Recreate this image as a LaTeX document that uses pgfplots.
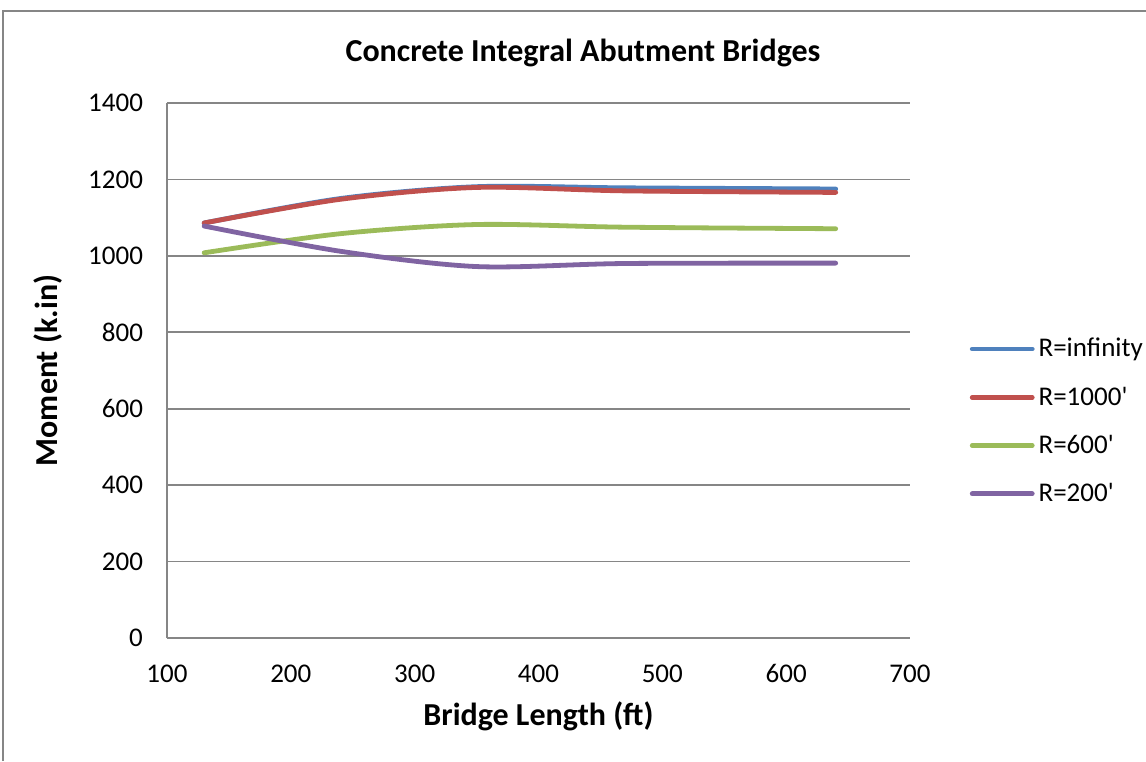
\documentclass[border=0pt]{standalone}
\usepackage{fontspec}
\setmainfont{Carlito}
\usepackage{pgfplots}
\pgfplotsset{compat=1.18}

\definecolor{sBlue}{HTML}{4F81BD}
\definecolor{sRed}{HTML}{C0504D}
\definecolor{sGreen}{HTML}{9BBB59}
\definecolor{sPurple}{HTML}{8064A2}
\definecolor{gridgray}{HTML}{868686}

\begin{document}
\begin{tikzpicture}
\useasboundingbox (0,0) rectangle (573pt,380.5pt);
\draw[gridgray, line width=0.8pt] (1.5pt,0) -- (1.5pt,375pt) -- (573pt,375pt);
\node[font=\bfseries\fontsize{16}{18}\selectfont] at (291.5pt,354pt) {Concrete Integral Abutment Bridges};
\begin{axis}[
  at={(83.5pt,61.5pt)}, anchor=south west,
  scale only axis, width=371.5pt, height=267.5pt,
  xmin=100, xmax=700, ymin=0, ymax=1400,
  xtick={100,200,...,700}, ytick={0,200,...,1400},
  axis x line*=bottom, axis y line*=left,
  axis line style={gridgray, line width=0.8pt, -},
  major tick length=0pt,
  ymajorgrids, grid style={gridgray, line width=0.8pt},
  tick label style={font=\fontsize{13.5}{15}\selectfont},
  /pgf/number format/assume math mode=true,
  /pgf/number format/1000 sep={},
  xticklabel style={text height=9pt, text depth=0pt, yshift=-9.5pt},
  yticklabel style={xshift=-8.5pt},
  xlabel={Bridge Length (ft)}, ylabel={Moment (k.in)},
  label style={font=\bfseries\fontsize{16}{18}\selectfont},
  xlabel style={at={(axis description cs:0.5,0)}, anchor=center, yshift=-39pt},
  ylabel style={at={(axis description cs:0,0.5)}, anchor=center, yshift=59.5pt},
  legend style={draw=none, fill=none, at={(axis description cs:1.08,0.405)}, anchor=west,
    font=\fontsize{13.5}{15}\selectfont, row sep=9.5pt, inner sep=0pt},
  legend cell align=left,
  legend image code/.code={\draw[#1, line width=2.4pt, line cap=round] (0pt,0pt) -- (30pt,0pt);},
  every axis plot/.append style={line width=2.4pt, smooth, no markers, line cap=round},
]
\addplot[sBlue] coordinates {(130,1086) (240,1150) (350,1181) (470,1178) (640,1175)};
\addplot[sRed] coordinates {(130,1086) (240,1148) (350,1179) (470,1170) (640,1166)};
\addplot[sGreen] coordinates {(130,1008) (240,1058) (350,1082) (470,1075) (640,1071)};
\addplot[sPurple] coordinates {(130,1078) (240,1012) (350,972) (470,980) (640,981)};
\legend{R=infinity, R=1000\textquotesingle, R=600\textquotesingle, R=200\textquotesingle}
\end{axis}
\end{tikzpicture}
\end{document}
